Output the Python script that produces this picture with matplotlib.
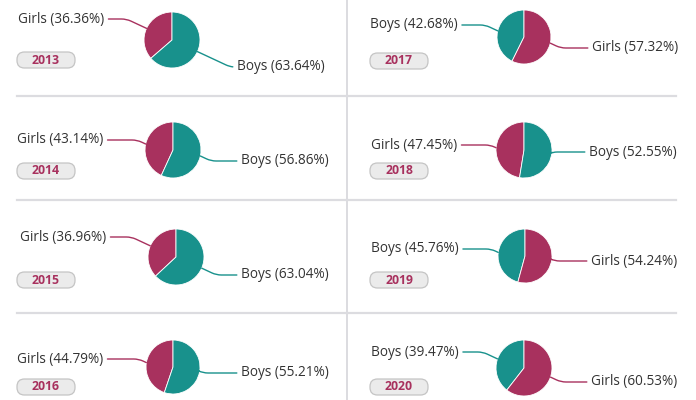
import matplotlib.pyplot as plt
from matplotlib.patches import FancyBboxPatch
import numpy as np

# 資料
years = ['2013', '2014', '2015', '2016', '2017', '2018', '2019', '2020']
girls = [36.36, 43.14, 36.96, 44.79, 57.32, 47.45, 54.24, 60.53]
boys = [63.64, 56.86, 63.04, 55.21, 42.68, 52.55, 45.76, 39.47]

TEAL = '#18918c'
CRIMSON = '#a8315e'
TEXT = '#333333'

# 版面（像素）：pie 中心、半徑、左標籤、徽章 y、右標籤
pie_pos = [(172, 40, 28), (173, 150, 28), (176, 257, 28), (173, 367, 27),
           (524, 37, 27), (524, 150, 28), (525, 256, 27), (524, 368, 28)]
left_lab = [(18, 19), (17, 140), (20, 237), (17, 359),
            (370, 25), (371, 145), (371, 249), (371, 352)]
badge_y = [60, 171, 280, 387, 61, 171, 280, 387]
right_lab = [(237, 67), (241, 161), (241, 275), (241, 373),
             (592, 48), (589, 152), (591, 261), (591, 382)]

W, H = 696, 400
plt.rcParams['font.family'] = ['Open Sans', 'DejaVu Sans']
fig = plt.figure(figsize=(W / 100, H / 100), dpi=100)
fig.patch.set_facecolor('white')

bg = fig.add_axes([0, 0, 1, 1])
bg.set_xlim(0, W)
bg.set_ylim(H, 0)
bg.axis('off')

# 分隔線
sep_c = '#dcdce0'
for y in [96, 200, 313]:
    bg.plot([17, 347], [y, y], color=sep_c, lw=1.6)
    bg.plot([347, 676], [y, y], color=sep_c, lw=1.6)
bg.plot([347, 347], [0, H], color=sep_c, lw=1.4)

for i, yr in enumerate(years):
    g, b = girls[i], boys[i]
    if g <= b:
        vals = [g, b]
        names = ['Girls', 'Boys']
        cols = [CRIMSON, TEAL]
    else:
        vals = [b, g]
        names = ['Boys', 'Girls']
        cols = [TEAL, CRIMSON]

    cx, cy, r = pie_pos[i]
    ax = fig.add_axes([(cx - r) / W, 1 - (cy + r) / H, 2 * r / W, 2 * r / H])
    ax.pie(vals, colors=cols, startangle=90, counterclock=True,
           wedgeprops=dict(edgecolor='white', linewidth=0.6))
    ax.set_xlim(-1, 1)
    ax.set_ylim(-1, 1)
    ax.set_aspect('equal')

    frac = vals[0] / 100.0
    mid_l = np.deg2rad(90 + 180 * frac)
    mid_r = np.deg2rad(270 + 180 * frac)

    # 左標籤
    lx, ly = left_lab[i]
    edge_y_l = cy - r * np.sin(mid_l)
    angB = 155 if ly < edge_y_l else 205
    ax.annotate(f'{names[0]} ({vals[0]:.2f}%)', xy=(np.cos(mid_l), np.sin(mid_l)),
                xycoords='data', xytext=(lx, ly), textcoords=bg.transData,
                ha='left', va='center', fontsize=9.8, color=TEXT,
                arrowprops=dict(arrowstyle='-', color=cols[0], lw=1.0,
                                shrinkA=1, shrinkB=0,
                                connectionstyle=f'angle,angleA=0,angleB={angB},rad=5'),
                annotation_clip=False)

    # 右標籤
    rx, ry = right_lab[i]
    edge_y_r = cy - r * np.sin(mid_r)
    angB = 335 if ry > edge_y_r else 25
    ax.annotate(f'{names[1]} ({vals[1]:.2f}%)', xy=(np.cos(mid_r), np.sin(mid_r)),
                xycoords='data', xytext=(rx, ry), textcoords=bg.transData,
                ha='left', va='center', fontsize=9.8, color=TEXT,
                arrowprops=dict(arrowstyle='-', color=cols[1], lw=1.0,
                                shrinkA=1, shrinkB=0,
                                connectionstyle=f'angle,angleA=0,angleB={angB},rad=5'),
                annotation_clip=False)

    # 年份徽章
    bx = 17 if i < 4 else 370
    by = badge_y[i]
    bw, bh = 58, 16
    bg.add_patch(FancyBboxPatch((bx, by - bh / 2), bw, bh,
                                boxstyle='round,pad=0,rounding_size=7.5',
                                facecolor='#ebebeb', edgecolor='#c4c4c4', lw=0.9))
    bg.text(bx + bw / 2, by, yr, ha='center', va='center', fontsize=8.8,
            fontweight='bold', color=CRIMSON)

fig.savefig('out.png', dpi=100)
